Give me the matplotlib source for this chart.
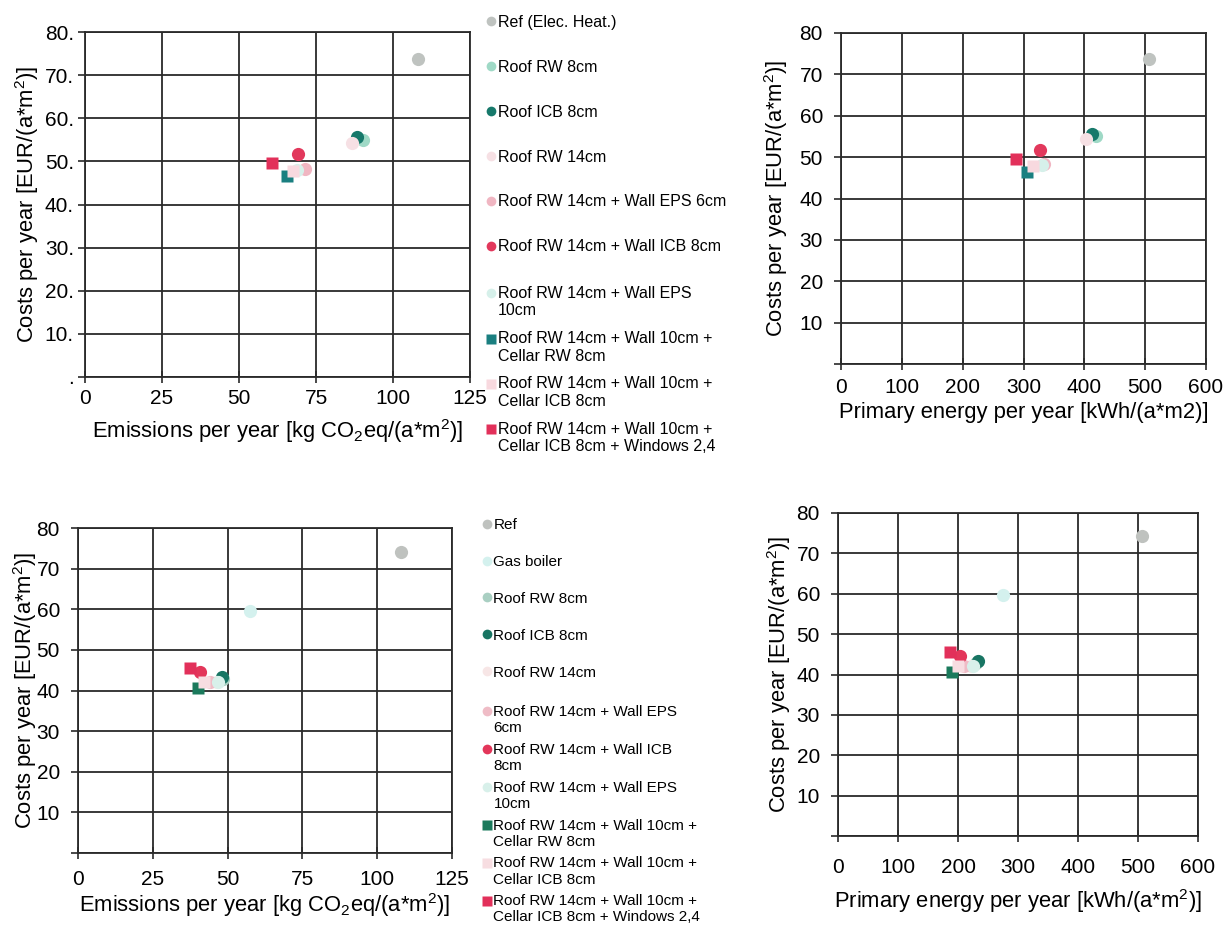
import matplotlib
matplotlib.use('Agg')
import matplotlib.pyplot as plt
import numpy as np
from matplotlib.lines import Line2D
from matplotlib.legend_handler import HandlerLine2D

plt.rcParams['font.family'] = ['Liberation Sans', 'DejaVu Sans']
plt.rcParams['mathtext.fontset'] = 'custom'
plt.rcParams['mathtext.rm'] = 'Liberation Sans'
plt.rcParams['mathtext.it'] = 'Liberation Sans:italic'

# ---- data: electric heating reference (top row) ----
top_labels = ['Ref (Elec. Heat.)', 'Roof RW 8cm', 'Roof ICB 8cm', 'Roof RW 14cm',
              'Roof RW 14cm + Wall EPS 6cm', 'Roof RW 14cm + Wall ICB 8cm',
              'Roof RW 14cm + Wall EPS\n10cm',
              'Roof RW 14cm + Wall 10cm +\nCellar RW 8cm',
              'Roof RW 14cm + Wall 10cm +\nCellar ICB 8cm',
              'Roof RW 14cm + Wall 10cm +\nCellar ICB 8cm + Windows 2,4']
top_colors = ['#bfc3c0', '#9fd9c6', '#17796b', '#f6e0e4', '#f0b6c2', '#e2385c',
              '#d6f0ea', '#1a7f80', '#f8d9df', '#e2305a']
top_markers = ['o', 'o', 'o', 'o', 'o', 'o', 'o', 's', 's', 's']
top_emis = [108, 90.3, 88.3, 86.7, 71.4, 69.2, 68.8, 65.5, 67.5, 60.7]
top_energy = [507, 419, 413, 402, 334, 327, 330, 306, 315, 287]
top_cost = [73.8, 55.0, 55.7, 54.3, 48.3, 51.8, 48.0, 46.5, 47.8, 49.6]

# ---- data: gas boiler case (bottom row) ----
bot_labels = ['Ref', 'Gas boiler', 'Roof RW 8cm', 'Roof ICB 8cm', 'Roof RW 14cm',
              'Roof RW 14cm + Wall EPS\n6cm', 'Roof RW 14cm + Wall ICB\n8cm',
              'Roof RW 14cm + Wall EPS\n10cm',
              'Roof RW 14cm + Wall 10cm +\nCellar RW 8cm',
              'Roof RW 14cm + Wall 10cm +\nCellar ICB 8cm',
              'Roof RW 14cm + Wall 10cm +\nCellar ICB 8cm + Windows 2,4']
bot_colors = ['#bfc2bf', '#d4f1ee', '#a9cfc2', '#187563', '#f7e6e6', '#efbcc6',
              '#e3365a', '#d8f0ea', '#1b7a5c', '#f7dde1', '#e2305a']
bot_markers = ['o', 'o', 'o', 'o', 'o', 'o', 'o', 'o', 's', 's', 's']
bot_emis = [108, 57.5, 48.5, 48.0, 46.5, 44.0, 40.8, 46.8, 40.0, 42.0, 37.4]
bot_energy = [507, 275, 230, 233, 222, 210, 203, 225, 190, 200, 187]
bot_cost = [74.2, 59.6, 42.8, 43.3, 42.0, 42.0, 44.5, 42.0, 40.5, 42.0, 45.6]

emis_ticks = [0, 25, 50, 75, 100, 125]
energy_ticks = [0, 100, 200, 300, 400, 500, 600]
cost_ticks = [0, 10, 20, 30, 40, 50, 60, 70, 80]

W, H = 1231, 925
fig = plt.figure(figsize=(W / 100, H / 100), dpi=100)

GRID = '#2a2a2a'
FS = 15      # tick labels
LS = 15.8    # axis labels


def rect(x0, y0, x1, y1):
    return [x0 / W, 1 - y1 / H, (x1 - x0) / W, (y1 - y0) / H]


def scatter_panel(ax, xs, ys, colors, markers, xticks, xmax, ylabels, xlabel, ypad, xpad):
    for x, y, c, m in zip(xs, ys, colors, markers):
        ax.plot(x, y, ls='', marker=m, color=c, ms=9.5 if m == 'o' else 8.5,
                mec='none', zorder=3)
    ax.set_xlim(0, xmax)
    ax.set_ylim(0, 80)
    ax.set_xticks(xticks)
    ax.set_yticks(cost_ticks)
    ax.set_yticklabels(ylabels)
    ax.grid(True, color=GRID, lw=1.3)
    for s in ax.spines.values():
        s.set_color(GRID)
        s.set_linewidth(1.3)
    ax.tick_params(axis='y', direction='out', length=5, width=1.2, color=GRID,
                   labelsize=FS, pad=ypad)
    ax.tick_params(axis='x', direction='inout', length=8, width=1.2, color=GRID,
                   labelsize=FS, pad=xpad)
    ax.set_xlabel(xlabel, fontsize=LS)
    ax.set_ylabel('Costs per year [EUR/(a*m$^2$)]', fontsize=LS)


ax1 = fig.add_axes(rect(85, 32, 470, 377))
scatter_panel(ax1, top_emis, top_cost, top_colors, top_markers, emis_ticks, 125,
              ['.', '10.', '20.', '30.', '40.', '50.', '60.', '70.', '80.'],
              'Emissions per year [kg CO$_2$eq/(a*m$^2$)]', 3, 5)
ax1.yaxis.set_label_coords(-0.115, 0.5)
ax1.xaxis.labelpad = 6

ax2 = fig.add_axes(rect(841, 33, 1206, 364))
scatter_panel(ax2, top_energy, top_cost, top_colors, top_markers, energy_ticks, 600,
              ['', '10', '20', '30', '40', '50', '60', '70', '80'],
              'Primary energy per year [kWh/(a*m2)]', 8, 6)
ax2.yaxis.set_label_coords(-0.14, 0.5)
ax2.xaxis.labelpad = 4

ax3 = fig.add_axes(rect(78, 528, 452, 853))
scatter_panel(ax3, bot_emis, bot_cost, bot_colors, bot_markers, emis_ticks, 125,
              ['', '10', '20', '30', '40', '50', '60', '70', '80'],
              'Emissions per year [kg CO$_2$eq/(a*m$^2$)]', 8, 8)
ax3.yaxis.set_label_coords(-0.105, 0.5)
ax3.xaxis.labelpad = 2

ax4 = fig.add_axes(rect(838, 513, 1198, 836))
scatter_panel(ax4, bot_energy, bot_cost, bot_colors, bot_markers, energy_ticks, 600,
              ['', '10', '20', '30', '40', '50', '60', '70', '80'],
              'Primary energy per year [kWh/(a*m$^2$)]', 8, 12)
ax4.yaxis.set_label_coords(-0.125, 0.5)
ax4.xaxis.labelpad = 7


class FirstLineHandler(HandlerLine2D):
    """put the legend marker next to the first text line"""
    def __init__(self, shift=0.0, **kw):
        super().__init__(**kw)
        self.shift = shift

    def create_artists(self, legend, orig_handle, xdescent, ydescent, width,
                       height, fontsize, trans):
        arts = super().create_artists(legend, orig_handle, xdescent, ydescent,
                                      width, height, fontsize, trans)
        for a in arts:
            a.set_ydata(np.asarray(a.get_ydata()) + self.shift * fontsize)
        return arts


def handles(colors, markers):
    return [Line2D([], [], ls='', marker=m, color=c, mec='none',
                   ms=7 if m == 'o' else 6.5) for c, m in zip(colors, markers)]


leg_kw = dict(loc='upper left', frameon=False, borderpad=0, handlelength=0.6,
              handletextpad=0.15, borderaxespad=0)
multi = {Line2D: FirstLineHandler(shift=0.58)}

th = handles(top_colors, top_markers)
fig.legend(th[:6], top_labels[:6], bbox_to_anchor=(486 / W, 1 - 15 / H),
           labelspacing=1.87, fontsize=11.5, **leg_kw)
fig.legend(th[6:], top_labels[6:], bbox_to_anchor=(486 / W, 1 - 286 / H),
           labelspacing=0.8, fontsize=11.5, handler_map=multi, **leg_kw)

bh = handles(bot_colors, bot_markers)
fig.legend(bh[:5], bot_labels[:5], bbox_to_anchor=(482 / W, 1 - 518 / H),
           labelspacing=1.5, fontsize=11, **leg_kw)
fig.legend(bh[5:], bot_labels[5:], bbox_to_anchor=(482 / W, 1 - 705 / H),
           labelspacing=0.5, fontsize=11, handler_map=multi, **leg_kw)

fig.savefig('out.png', dpi=100)
